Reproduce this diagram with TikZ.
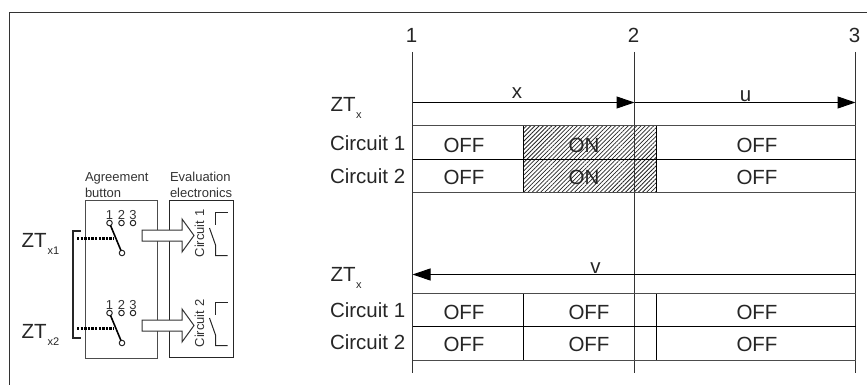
\documentclass[tikz,border=0pt]{standalone}
\usepackage{fontspec}
\setmainfont{Liberation Sans}
\usetikzlibrary{patterns.meta,arrows.meta}
\tikzset{
  every node/.style={inner sep=0pt,outer sep=0pt},
  big/.style={font=\fontsize{20.5}{20.5}\selectfont,text=black!85},
  small/.style={font=\fontsize{13}{14}\selectfont,text=black!80},
  subs/.style={font=\fontsize{11}{11}\selectfont,text=black!85},
  rule/.style={draw=black!80,line width=1pt},
  boxline/.style={draw=black!70,line width=1pt},
  dark line/.style={draw=black,line width=1.6pt},
  contact/.style={circle,draw=black!85,line width=1pt,fill=white,minimum size=5.5pt},
  tip/.style={-{Triangle[length=18pt,width=12pt]},draw=black,line width=1pt}
}
\begin{document}
\begin{tikzpicture}[x=1pt,y=-1pt]
\useasboundingbox (0,0) rectangle (867,385);
% frame
\coordinate (fa) at (9.5,385);\coordinate (fb) at (9.5,12.5);\coordinate (fc) at (867,12.5);
\draw[rule] (fa) -- (fb) -- (fc);
% time lines
\foreach \n/\x in {1/412.5,2/634.5,3/855.5}{
  \coordinate (t\n) at (\x,52);
  \coordinate (b\n) at (\x,373);
  \node[big,anchor=base] (lab\n) at (\x-1,43) {\n};
}
% hatched blocks
\node[draw=black,line width=1pt,pattern={Lines[angle=45,distance=3pt,line width=0.75pt]},pattern color=black!85,minimum width=133pt,minimum height=67pt,anchor=north west] (hatch) at (523.5,125.5) {};
\node[draw=black,line width=1pt,minimum width=133pt,minimum height=67pt,anchor=north west] (plain) at (523.5,293.5) {};
\foreach \n in {1,2,3}{\draw[rule] (t\n) -- (b\n);}
% rows
\foreach \y in {125.5,192.5,293.5,360.5}{\draw[boxline] (412.5,\y) -- (855.5,\y);}
\foreach \y in {159.5,326.5}{\draw[draw=black,line width=1.1pt] (412.5,\y) -- (855.5,\y);}
% arrows
\coordinate (a1) at (412.5,102.5);\coordinate (a2) at (634.5,102.5);\coordinate (a3) at (855.5,102.5);
\draw[tip] (a1) -- (a2);
\draw[tip] (a2) -- (a3);
\coordinate (c3) at (855.5,274.5);\coordinate (c1) at (412.5,274.5);
\draw[tip] (c3) -- (c1);
\node[big,anchor=base] (xl) at (517,99) {x};
\node[big,anchor=base] (ul) at (745.5,101.5) {u};
\node[big,anchor=base] (vl) at (595.5,273) {v};
% row labels
\foreach \y/\t in {112/ZTu,281/ZTl}{
  \node[big,anchor=base west] (\t) at (330.5,\y) {ZT};
  \node[subs,anchor=base west] (\t s) at (356,\y+7) {x};
}
\foreach \y/\nm/\t in {150/ca/Circuit 1,183/cb/Circuit 2,317/cc/Circuit 1,349/cd/Circuit 2}{
  \node[big,anchor=base west] (\nm) at (330,\y) {\t};
}
\foreach \x/\y/\nm/\t in {464/152/o1/OFF,464/184/o2/OFF,584/152/on1/ON,584/184/on2/ON,757/152/o3/OFF,757/184/o4/OFF,
   464/319/o5/OFF,464/351.5/o6/OFF,589/319/o7/OFF,589/351.5/o8/OFF,757/319/o9/OFF,757/351.5/o10/OFF}{
  \node[big,anchor=base] (\nm) at (\x,\y) {\t};
}
% left schematic
\node[small,anchor=base west] (ab1) at (85,181) {Agreement};
\node[small,anchor=base west] (ab2) at (85,197) {button};
\node[small,anchor=base west] (ev1) at (170,181) {Evaluation};
\node[small,anchor=base west] (ev2) at (170,197) {electronics};
\node[boxline,minimum width=72pt,minimum height=158pt,anchor=north west] (agree) at (85.5,200) {};
\node[draw=black!85,line width=1pt,minimum width=64pt,minimum height=157pt,anchor=north west] (eval) at (169.5,200) {};
\foreach \o/\p in {0/a,90/b}{
\begin{scope}[yshift=-\o pt]
  \node[small,anchor=base] (n1\p) at (109.5,219) {1};
  \node[small,anchor=base] (n2\p) at (121.5,219) {2};
  \node[small,anchor=base] (n3\p) at (133,219) {3};
  \node[contact] (k1\p) at (109.5,223) {};
  \node[contact] (k2\p) at (121.5,223) {};
  \node[contact] (k3\p) at (133,223) {};
  \node[contact] (k0\p) at (122,253) {};
  \draw[dark line] (k1\p) -- (k0\p);
  \coordinate (d\p) at (77,238.5);
  \coordinate (e\p) at (114,238.5);
  \draw[draw=black,line width=2.4pt,dash pattern=on 2.4pt off 1.2pt] (d\p) -- (e\p);
  \draw[draw=black!80,line width=1pt,fill=white] (142,230) -- (182,230) -- (182,219) -- (194,235.5) -- (182,252) -- (182,241) -- (142,241) -- cycle;
  \node[small,rotate=90,anchor=base] (cir\p) at (204,233.5) {Circuit \if\p a1\else2\fi};
  \coordinate (s1\p) at (227.5,212.5);\coordinate (s2\p) at (215.5,212.5);\coordinate (s3\p) at (215.5,225);
  \coordinate (s4\p) at (209.5,228);\coordinate (s5\p) at (215.5,245);\coordinate (s6\p) at (215.5,255.5);\coordinate (s7\p) at (227.5,255.5);
  \draw[boxline,draw=black!85] (s1\p) -- (s2\p) -- (s3\p);
  \draw[boxline,draw=black!85] (s4\p) -- (s5\p) -- (s6\p) -- (s7\p);
\end{scope}}
% bracket
\coordinate (br1) at (81,231);\coordinate (br2) at (73,231);\coordinate (br3) at (73,338);\coordinate (br4) at (81,338);
\draw[draw=black!85,line width=1.2pt] (br1) -- (br2) -- (br3) -- (br4);
\node[big,anchor=base west] (zt1) at (21.5,247) {ZT};
\node[subs,anchor=base west] (zt1s) at (47.5,254) {x1};
\node[big,anchor=base west] (zt2) at (21.5,338) {ZT};
\node[subs,anchor=base west] (zt2s) at (47.5,345) {x2};
\end{tikzpicture}
\end{document}
